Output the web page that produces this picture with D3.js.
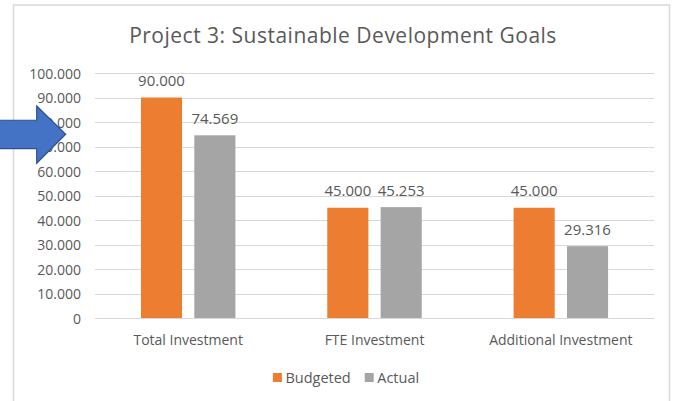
<!DOCTYPE html>
<html>
<head>
<meta charset="utf-8">
<script src="https://cdn.jsdelivr.net/npm/d3@7"></script>
<style>
  html, body { margin: 0; padding: 0; background: #fff; }
  svg { display: block; }
  text { font-family: "Open Sans", sans-serif; fill: #595959; }
</style>
</head>
<body>
<svg id="chart" width="675" height="401"></svg>
<script>
const title = "Project 3: Sustainable Development Goals";
const categories = ["Total Investment", "FTE Investment", "Additional Investment"];
const seriesNames = ["Budgeted", "Actual"];
const budgeted = [90000, 45000, 45000];
const actual = [74569, 45253, 29316];
const yTicks = [0, 10000, 20000, 30000, 40000, 50000, 60000, 70000, 80000, 90000, 100000];
const colors = ["#ED7D31", "#A5A5A5"];

const rows = categories.map((c, i) => ({ category: c, values: [budgeted[i], actual[i]] }));

const svg = d3.select("#chart");
const W = 675, H = 401;
const margin = { left: 95, right: 21, top: 73, bottom: 83 };
const plotL = margin.left, plotR = W - margin.right;
const plotT = margin.top, plotB = H - margin.bottom;

const locale = d3.formatLocale({ decimal: ",", thousands: ".", grouping: [3], currency: ["", ""] });
const fmt = locale.format(",.0f");

// Chart area border
svg.append("path")
  .attr("d", `M13.5,${H + 2} V5 H669.5 V${H + 2}`)
  .attr("fill", "none")
  .attr("stroke", "#D9D9D9")
  .attr("stroke-width", 1.5);

const x0 = d3.scaleBand().domain(categories).range([plotL, plotR]).paddingInner(0.493).paddingOuter(0.2465);
const x1 = d3.scaleBand().domain(seriesNames).range([0, x0.bandwidth()]).paddingInner(0.23);
const y = d3.scaleLinear().domain([0, 100000]).range([plotB, plotT]);

// Gridlines
svg.append("g").selectAll("line").data(yTicks).join("line")
  .attr("x1", plotL).attr("x2", plotR)
  .attr("y1", d => Math.round(y(d)) + 0.5).attr("y2", d => Math.round(y(d)) + 0.5)
  .attr("stroke", "#D9D9D9").attr("stroke-width", 1);

// Y axis labels
const yAxis = svg.append("g").attr("transform", `translate(${plotL - 14},0)`)
  .call(d3.axisLeft(y).tickValues(yTicks).tickFormat(fmt).tickSize(0).tickPadding(0));
yAxis.select(".domain").remove();
yAxis.selectAll("text").attr("font-size", 14).attr("font-family", "Open Sans, sans-serif").attr("fill", "#595959").attr("dy", "0.36em");

// Bars
const groups = svg.append("g").selectAll("g").data(rows).join("g")
  .attr("transform", d => `translate(${x0(d.category)},0)`);
groups.selectAll("rect").data(d => d.values.map((v, i) => ({ key: seriesNames[i], value: v, i }))).join("rect")
  .attr("x", d => x1(d.key))
  .attr("width", x1.bandwidth())
  .attr("y", d => y(d.value))
  .attr("height", d => y(0) - y(d.value))
  .attr("fill", d => colors[d.i]);

// Data labels
groups.selectAll("text.lbl").data(d => d.values.map((v, i) => ({ key: seriesNames[i], value: v, i }))).join("text")
  .attr("class", "lbl")
  .attr("x", d => x1(d.key) + x1.bandwidth() / 2)
  .attr("y", d => y(d.value) - 11.5)
  .attr("text-anchor", "middle")
  .attr("font-size", 15)
  .text(d => fmt(d.value));

// X axis labels
const xAxis = svg.append("g").attr("transform", `translate(0,${plotB})`)
  .call(d3.axisBottom(x0).tickSize(0).tickPadding(0));
xAxis.select(".domain").remove();
xAxis.selectAll("text").attr("font-size", 14).attr("font-family", "Open Sans, sans-serif").attr("fill", "#595959").attr("dy", 0).attr("y", 27);

// Title
svg.append("text").attr("x", 343).attr("y", 43).attr("text-anchor", "middle")
  .attr("font-size", 21).attr("letter-spacing", 0.5).text(title);

// Legend
const legend = svg.append("g");
const legItems = legend.selectAll("g").data(seriesNames).join("g");
legItems.append("rect").attr("width", 9).attr("height", 9).attr("y", 373).attr("fill", (d, i) => colors[i]);
legItems.append("text").attr("x", 12.5).attr("y", 383).attr("font-size", 14.5).text(d => d);
let lx = 0;
const widths = [];
legItems.each(function () { widths.push(this.getBBox().width); });
const gap = 14;
const total = widths.reduce((a, b) => a + b, 0) + gap * (widths.length - 1);
lx = 346 - total / 2;
legItems.attr("transform", (d, i) => {
  const t = `translate(${lx},0)`;
  lx += widths[i] + gap;
  return t;
});

// Annotation arrow (overlay shape) pointing at the 75.000 level
const ay = y(75000);
svg.append("path")
  .attr("d", `M-2,${ay - 14} H36.7 V${ay - 28.3} L65.7,${ay} L36.7,${ay + 29} V${ay + 14.3} H-2 Z`)
  .attr("fill", "#4472C4")
  .attr("stroke", "#2F528F")
  .attr("stroke-width", 1.2);
</script>
</body>
</html>
